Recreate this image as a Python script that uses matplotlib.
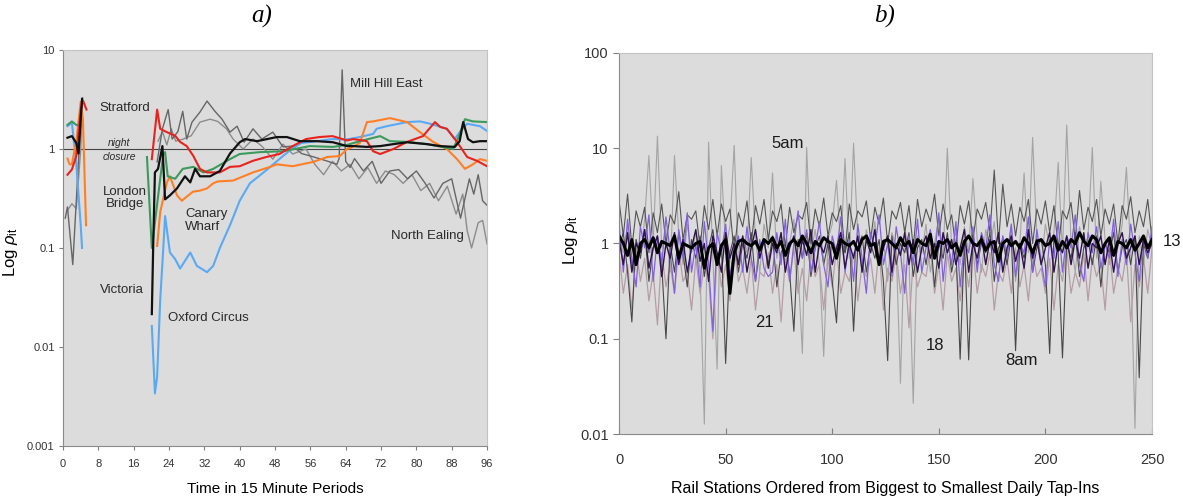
import numpy as np
import matplotlib
matplotlib.use("Agg")
import matplotlib.pyplot as plt
from matplotlib.ticker import NullLocator

plt.rcParams['font.family'] = ['Liberation Sans', 'DejaVu Sans']
plt.rcParams['mathtext.fontset'] = 'custom'
plt.rcParams['mathtext.rm'] = 'Liberation Sans'
plt.rcParams['mathtext.it'] = 'Liberation Sans:italic'

nan = np.nan

# ---- panel a: stations over the day (15 minute periods) ----
red_t = [1, 2, 3, 4, 4.5, 5.3, nan, 20.1, 21.3, 22, 23.5, 25.4, 26.5, 28, 29.5, 31, 32.6, 35.5, 37.8, 40, 43, 46, 49,
         52, 55, 58, 61, 64.3, 65.7, 68.8, 70.2, 71.8, 74.8, 77.9, 81.5, 84.2, 85.4, 86.9, 89.2, 91.5, 93.7, 96]
red_v = [0.55, 0.62, 0.85, 2.5, 3.1, 2.5, nan, 0.79, 2.5, 1.6, 1.48, 1.36, 1.18, 1.07, 0.85, 0.63, 0.58, 0.58, 0.66,
         0.67, 0.76, 0.83, 0.89, 1.07, 1.26, 1.32, 1.35, 1.22, 1.26, 1.2, 0.95, 0.89, 1.0, 1.18, 1.35, 1.87, 1.67, 1.6,
         1.18, 0.83, 0.76, 0.67]

orange_t = [1, 1.5, 2, 3, 4, 4.5, 5.2, nan, 21.3, 22, 23.5, 24.2, 25.8, 26.9, 28, 29.4, 31, 32.6, 34, 35, 38.5, 43,
            46.9, 48.4, 52, 56.6, 59.8, 62.7, 64.3, 65, 67.2, 68.8, 70.2, 74, 77.9, 80.8, 83.8, 86.9, 89.2, 91, 92.8,
            94.4, 96]
orange_v = [0.8, 0.7, 0.7, 1.2, 3.0, 2.0, 0.17, nan, 0.105, 0.23, 0.46, 0.53, 0.34, 0.3, 0.33, 0.37, 0.38, 0.4, 0.45,
            0.47, 0.48, 0.58, 0.66, 0.7, 0.67, 0.74, 0.83, 0.85, 1.0, 1.02, 1.15, 1.87, 1.9, 2.05, 1.87, 1.48, 1.18,
            1.0, 0.79, 0.63, 0.7, 0.79, 0.76]

green_t = [1, 2, 3, 4, nan, 19.0, 20.1, 22, 22.7, 23.1, 23.7, 25.4, 27.1, 29.5, 31.8, 34, 37.8, 40, 44.6, 49.8, 55.9,
           61.1, 64.3, 67.2, 71.8, 74, 77.9, 82.4, 88.3, 89.5, 91, 92.8, 96]
green_v = [1.75, 1.9, 1.75, 1.7, nan, 0.83, 0.1, 0.5, 0.89, 0.93, 0.53, 0.5, 0.63, 0.66, 0.58, 0.63, 0.79, 0.89, 0.93,
           0.95, 1.07, 1.05, 1.1, 1.2, 1.35, 1.2, 1.18, 1.12, 1.0, 1.3, 2.0, 1.9, 1.87]

blue_t = [1, 2, 3, 4, 4.3, nan, 20.1, 20.8, 21.3, 22, 22.7, 23.1, 24.2, 25.4, 26.5, 28.8, 30.3, 32.6, 34, 35.5, 37.8,
          40, 42.3, 46.2, 49.8, 52, 54, 57.5, 61, 64.3, 67.2, 70.2, 71, 73.3, 77.9, 80.8, 83.1, 86.9, 88.7, 89.9,
          91.5, 94.4, 96]
blue_v = [1.7, 1.85, 0.7, 0.17, 0.1, nan, 0.0163, 0.0034, 0.005, 0.03, 0.1, 0.21, 0.09, 0.077, 0.062, 0.09, 0.066,
          0.057, 0.066, 0.1, 0.17, 0.3, 0.45, 0.62, 0.85, 1.02, 1.15, 1.2, 1.26, 1.25, 1.32, 1.42, 1.6, 1.7, 1.87, 1.9,
          1.8, 1.6, 1.26, 1.5, 1.8, 1.7, 1.52]

black_t = [1, 2, 3, 3.5, 4, 4.3, nan, 20.1, 20.4, 20.8, 21.5, 22.5, 23.1, 24.2, 25.8, 27.6, 28.8, 29.9, 31, 33.3,
           35.5, 37.8, 40, 41.2, 43.9, 46.2, 48.4, 50.7, 53.6, 57.5, 61.1, 64.3, 65.7, 68.8, 71.8, 74.8, 77.9, 82.4,
           85.4, 88.7, 89.8, 90.6, 91.7, 92.8, 94.4, 96]
black_v = [1.3, 1.35, 1.15, 0.9, 2.0, 3.2, nan, 0.0215, 0.1, 0.58, 0.63, 1.07, 0.31, 0.34, 0.4, 0.53, 0.46, 0.63,
           0.53, 0.53, 0.6, 0.9, 1.17, 1.26, 1.2, 1.26, 1.32, 1.32, 1.2, 1.2, 1.17, 1.07, 1.07, 1.05, 1.07, 1.12, 1.17,
           1.12, 1.07, 1.05, 1.2, 1.87, 1.26, 1.17, 1.2, 1.2]

gray1_t = [0.5, 1, 2.2, 3, 4, 4.4, nan, 21.3, 22.5, 23.8, 24.7, 26, 27.1, 28, 29.2, 31, 32.6, 34.4, 36, 37.8, 39.4,
           41, 43, 45, 47.5, 49.8, 52, 54, 56, 58, 60, 62, 62.5, 63.2, 64, 65, 66, 68, 70, 72, 74, 76, 78, 80, 82, 84,
           86, 88, 90, 92, 93, 94, 95, 96]
gray1_v = [0.2, 0.26, 0.068, 0.3, 2.0, 3.3, nan, 0.74, 1.6, 2.5, 1.26, 1.5, 2.4, 1.26, 1.87, 2.36, 3.05, 2.4, 2.0,
           1.48, 1.7, 1.17, 1.6, 1.26, 1.48, 1.05, 1.07, 0.9, 0.85, 0.8, 0.75, 0.7, 0.8, 6.3, 0.75, 0.65, 0.8, 0.6,
           0.75, 0.45, 0.6, 0.62, 0.5, 0.6, 0.45, 0.32, 0.45, 0.5, 0.2, 0.5, 0.35, 0.55, 0.3, 0.27]

gray2_t = [1, 2, 3, 4, 4.4, nan, 21.5, 22.5, 23.5, 24.5, 25.5, 27, 29, 31, 33.3, 35, 37, 38.5, 40.8, 43, 45, 47.5,
           49.8, 52, 55, 57, 59, 61, 63, 65, 67, 69, 71, 73, 75, 77, 79, 81, 83, 85, 87, 89, 90.5, 91.5, 92.5, 94, 95,
           96]
gray2_v = [0.24, 0.28, 0.25, 1.0, 3.0, nan, 1.2, 1.5, 1.1, 1.6, 1.2, 1.25, 1.36, 1.87, 2.0, 1.9, 1.6, 1.26, 1.0, 1.26,
           1.07, 0.79, 1.12, 0.89, 1.0, 0.7, 0.55, 0.75, 0.6, 0.7, 0.5, 0.65, 0.45, 0.6, 0.55, 0.45, 0.55, 0.38, 0.45,
           0.3, 0.42, 0.22, 0.35, 0.15, 0.1, 0.18, 0.19, 0.11]

# ---- panel b: stations ordered by tap-ins, every second station ----
light_gray = [1.2, 0.8, 1.5, 0.6, 1.1, 0.7, 1.8, 8.4, 1.0, 13.4, 0.9, 1.4, 0.5, 8.4, 1.2, 0.6, 1.6, 0.8, 1.3, 0.5,
              0.0127, 11.6, 0.7, 0.048, 6.6, 0.9, 1.5, 10.7, 0.6, 1.2, 0.8, 8.0, 1.1, 0.5, 1.6, 0.9, 5.5, 0.7, 1.3,
              0.6, 1.0, 1.8, 0.5, 0.07, 10.2, 0.8, 1.4, 0.6, 0.065, 1.1, 1.6, 4.6, 0.9, 7.8, 0.7, 11.3, 1.2, 0.5, 1.4,
              0.8, 1.7, 0.6, 1.1, 0.4, 1.3, 0.9, 0.034, 1.5, 0.7, 0.021, 1.2, 0.8, 1.6, 0.5, 1.0, 1.9, 0.7, 10.0, 0.9,
              1.3, 0.6, 1.5, 0.8, 4.8, 1.1, 0.5, 1.4, 0.9, 1.7, 0.6, 1.2, 0.8, 1.5, 0.4, 1.0, 5.5, 0.8, 13.0, 1.1,
              0.6, 1.6, 0.9, 1.3, 7.1, 0.8, 17.5, 1.0, 0.5, 1.5, 0.9, 1.2, 10.2, 0.7, 4.5, 1.1, 0.6, 1.4, 0.9, 1.6,
              6.3, 0.8, 0.0115, 1.2, 0.6, 1.4, 0.9]
dark_gray = [2.8, 1.2, 3.3, 0.9, 2.2, 1.5, 2.4, 0.8, 2.1, 1.3, 2.6, 1.0, 2.0, 1.6, 3.5, 1.1, 2.0, 1.8, 2.2, 0.9, 2.5,
             1.4, 2.9, 1.2, 2.6, 1.7, 2.3, 0.8, 2.1, 1.5, 2.8, 1.0, 2.5, 1.6, 2.9, 1.1, 2.2, 1.7, 2.6, 0.9, 2.4, 1.3,
             2.0, 1.8, 2.7, 1.0, 2.3, 1.5, 3.0, 1.2, 2.1, 1.7, 2.5, 0.8, 2.6, 1.4, 2.2, 1.9, 2.8, 1.1, 2.4, 1.6, 3.0,
             1.0, 2.2, 1.8, 2.7, 1.3, 2.5, 0.9, 2.9, 1.5, 2.3, 1.7, 3.3, 1.2, 2.6, 1.4, 2.0, 0.9, 2.5, 1.6, 2.8, 1.1,
             2.3, 1.8, 2.7, 1.3, 5.9, 1.0, 4.2, 1.5, 2.6, 1.2, 2.4, 1.7, 2.9, 1.0, 2.3, 1.6, 2.8, 1.3, 2.5, 0.9, 2.2,
             1.8, 2.7, 1.1, 3.6, 1.4, 2.4, 1.7, 2.9, 1.2, 2.3, 1.6, 2.6, 1.0, 2.5, 1.8, 3.1, 1.3, 2.2, 1.5, 2.9, 1.1]
hour_8am = [0.9, 1.3, 0.5, 0.15, 1.1, 0.7, 1.4, 0.4, 0.9, 1.2, 0.6, 0.1, 1.0, 0.5, 1.3, 0.8, 0.35, 1.1, 0.7, 1.2,
            0.45, 0.9, 1.4, 0.6, 1.0, 0.055, 0.8, 1.2, 0.5, 1.0, 0.7, 1.3, 0.4, 0.9, 1.1, 0.6, 1.2, 0.35, 0.8, 1.0,
            0.5, 0.12, 1.1, 0.7, 1.3, 0.45, 0.9, 1.2, 0.6, 1.0, 0.4, 0.147, 1.1, 0.8, 1.3, 0.12, 0.9, 1.2, 0.5, 1.0,
            0.7, 1.1, 0.4, 0.059, 1.2, 0.6, 1.0, 0.8, 1.3, 0.45, 0.9, 1.1, 0.6, 1.2, 0.35, 1.0, 0.7, 1.3, 0.5, 0.9,
            0.061, 1.1, 0.06, 1.2, 0.6, 1.0, 0.8, 1.3, 0.4, 0.9, 1.1, 0.6, 1.2, 0.075, 1.0, 0.7, 1.3, 0.5, 0.9, 1.1,
            0.6, 0.07, 1.2, 0.8, 0.063, 1.0, 0.7, 1.3, 0.45, 0.9, 1.1, 0.6, 1.2, 0.35, 1.0, 0.8, 1.3, 0.5, 0.9, 1.1,
            0.6, 1.2, 0.039, 1.0, 0.7, 1.2]
hour_18 = [0.8, 0.3, 0.6, 0.2, 0.9, 0.4, 0.7, 0.25, 0.5, 0.14, 0.8, 0.35, 0.6, 0.3, 0.9, 0.4, 0.5, 0.2, 0.7, 0.3,
           0.6, 0.45, 0.1, 0.8, 0.35, 0.6, 0.25, 0.9, 0.4, 0.55, 0.3, 0.7, 0.2, 0.5, 0.45, 0.8, 0.3, 0.6, 0.15, 0.7,
           0.4, 0.9, 0.3, 0.55, 0.25, 0.8, 0.45, 0.6, 0.2, 0.7, 0.35, 0.9, 0.3, 0.5, 0.4, 0.8, 0.25, 0.6, 0.45, 0.7,
           0.3, 0.9, 0.2, 0.55, 0.4, 0.8, 0.3, 0.6, 0.13, 0.7, 0.35, 0.5, 0.45, 0.9, 0.3, 0.6, 0.2, 0.8, 0.4, 0.55,
           0.25, 0.7, 0.35, 0.9, 0.3, 0.6, 0.45, 0.8, 0.2, 0.5, 0.4, 0.7, 0.3, 0.9, 0.35, 0.6, 0.25, 0.8, 0.45, 0.55,
           0.3, 0.7, 0.2, 0.6, 0.4, 0.9, 0.3, 0.5, 0.35, 0.8, 0.25, 0.7, 0.45, 0.6, 0.2, 0.9, 0.3, 0.55, 0.4, 0.8,
           0.15, 0.6, 0.35, 0.7, 0.3, 0.9]
hour_21 = [1.6, 0.5, 1.8, 0.7, 0.35, 1.5, 0.9, 2.0, 0.4, 1.2, 0.6, 1.9, 0.8, 0.3, 1.4, 0.7, 2.1, 0.5, 1.0, 0.35, 1.7,
           0.6, 0.12, 1.3, 0.8, 1.6, 0.45, 0.9, 1.2, 0.5, 1.5, 0.7, 0.4, 1.1, 0.55, 0.45, 0.5, 1.3, 0.6, 1.8, 0.4,
           1.0, 2.2, 0.7, 1.4, 0.5, 0.9, 1.7, 0.6, 0.35, 1.2, 0.8, 1.9, 0.5, 1.1, 0.4, 1.6, 0.7, 0.3, 1.3, 0.9, 2.0,
           0.6, 1.0, 0.45, 1.5, 0.8, 0.3, 1.2, 0.6, 1.8, 0.5, 0.9, 1.4, 0.7, 2.1, 0.4, 1.1, 0.6, 1.7, 0.35, 1.0, 0.8,
           1.5, 0.5, 1.3, 0.9, 2.0, 0.6, 0.4, 1.2, 0.7, 1.6, 0.45, 1.0, 0.8, 1.9, 0.5, 1.4, 0.65, 0.35, 1.1, 0.7,
           1.7, 0.5, 1.2, 0.9, 2.0, 0.6, 0.4, 1.3, 0.8, 1.5, 0.55, 1.0, 0.7, 1.8, 0.45, 1.1, 0.6, 1.6, 0.8, 0.4,
           1.2, 0.7, 1.5]
dark_purple = [1.1, 0.6, 1.3, 0.5, 1.0, 0.8, 1.4, 0.55, 0.9, 1.2, 0.45, 1.0, 0.7, 1.3, 0.6, 1.1, 0.5, 0.9, 1.4, 0.65,
               1.0, 0.4, 1.2, 0.8, 0.5, 1.3, 0.7, 1.0, 0.6, 1.2, 0.5, 0.9, 1.4, 0.7, 1.1, 0.55, 1.0, 0.8, 1.3, 0.5,
               0.9, 1.2, 0.6, 1.1, 0.75, 1.4, 0.5, 1.0, 0.8, 1.2, 0.6, 0.9, 1.3, 0.55, 1.0, 0.7, 1.2, 0.5, 1.1, 0.8,
               1.4, 0.6, 0.9, 1.2, 0.5, 1.0, 0.75, 1.3, 0.6, 1.1, 0.5, 0.9, 1.2, 0.7, 1.0, 0.55, 1.3, 0.8, 1.1, 0.6,
               0.9, 1.4, 0.5, 1.0, 0.7, 1.2, 0.6, 1.1, 0.8, 1.3, 0.5, 0.9, 1.2, 0.65, 1.0, 0.55, 1.4, 0.7, 1.1, 0.6,
               0.9, 1.3, 0.5, 1.0, 0.8, 1.2, 0.6, 1.1, 0.7, 1.3, 0.55, 1.0, 0.9, 1.2, 0.6, 1.1, 0.5, 1.0, 1.3, 0.7,
               0.9, 1.2, 0.6, 1.1, 0.8, 1.0]
hour_13 = [1.2, 1.0, 0.75, 1.1, 0.6, 1.0, 1.1, 0.9, 1.15, 0.8, 1.05, 1.0, 0.95, 1.2, 0.7, 1.0, 0.95, 0.9, 1.0, 1.05,
           0.55, 0.9, 1.0, 0.6, 0.95, 1.1, 0.3, 0.8, 1.05, 1.1, 1.0, 0.95, 1.05, 0.85, 1.1, 1.0, 1.15, 0.9, 1.05,
           0.75, 1.0, 1.1, 0.95, 1.2, 1.0, 0.8, 1.05, 0.95, 1.15, 1.05, 1.0, 0.7, 1.1, 1.0, 0.95, 1.05, 0.85, 1.1,
           1.2, 0.95, 1.0, 0.6, 1.05, 1.1, 1.0, 0.9, 1.15, 0.95, 1.05, 0.8, 1.1, 1.0, 0.95, 1.25, 0.7, 1.05, 1.0,
           1.1, 0.9, 1.0, 0.75, 1.05, 1.2, 1.0, 0.95, 1.1, 0.85, 1.0, 1.05, 0.65, 1.0, 1.1, 0.95, 1.05, 0.9, 1.15,
           1.0, 0.8, 1.05, 1.1, 0.95, 1.0, 1.2, 0.85, 1.05, 0.9, 1.1, 1.0, 1.3, 1.05, 0.95, 1.2, 1.1, 0.8, 1.0, 1.15,
           0.75, 1.05, 1.0, 0.9, 1.1, 0.85, 1.0, 1.2, 0.9, 1.1]


def stations(vals):
    return np.arange(len(vals)) * 2


fig = plt.figure(figsize=(11.83, 4.98), dpi=100)
bg = '#dcdcdc'
tick_col = '#333333'

# ---------------- a) ----------------
ax = fig.add_axes([0.0533, 0.1044, 0.3584, 0.7952])
ax.set_facecolor(bg)
ax.axhline(1, color='#444444', lw=0.8, zorder=1)
ax.plot(gray2_t, gray2_v, color='#8c8c8c', lw=1.0)
ax.plot(gray1_t, gray1_v, color='#666666', lw=1.0)
ax.plot(blue_t, blue_v, color='#5aa9f5', lw=1.5)
ax.plot(orange_t, orange_v, color='#ff7f27', lw=1.5)
ax.plot(green_t, green_v, color='#3c9a5c', lw=1.5)
ax.plot(red_t, red_v, color='#e8231e', lw=1.5)
ax.plot(black_t, black_v, color='#111111', lw=1.6)
ax.set_yscale('log')
ax.set_xlim(0, 96)
ax.set_ylim(0.001, 10)
ax.set_xticks(range(0, 97, 8))
ax.set_yticks([0.001, 0.01, 0.1, 1, 10])
ax.set_yticklabels(['0.001', '0.01', '0.1', '1', '10'])
ax.yaxis.set_minor_locator(NullLocator())
ax.tick_params(direction='out', length=3, color='#808080', labelsize=8, labelcolor=tick_col, pad=3)
ax.tick_params(axis='x', pad=6)
for s in ['top', 'right']:
    ax.spines[s].set_color('#c4c4c4')
for s in ['left', 'bottom']:
    ax.spines[s].set_color('#8a8a8a')
ax.set_xlabel('Time in 15 Minute Periods', fontsize=11, labelpad=10)
ax.set_ylabel(r'Log $\rho_{\rm it}$', fontsize=12)
ax.yaxis.set_label_coords(-0.102, 0.49)

txt = dict(fontsize=9.5, color='#2a2a2a')
ax.text(14.0, 2.6, 'Stratford', ha='center', va='center', **txt)
ax.text(12.7, 1.15, 'night', ha='center', va='center', fontsize=7.5, style='italic', color='#2a2a2a')
ax.text(12.7, 0.83, 'closure', ha='center', va='center', fontsize=7.5, style='italic', color='#2a2a2a')
ax.text(14.0, 0.32, 'London\nBridge', ha='center', va='center', linespacing=1.1, **txt)
ax.text(27.6, 0.19, 'Canary\nWharf', ha='left', va='center', linespacing=1.1, **txt)
ax.text(13.3, 0.0377, 'Victoria', ha='center', va='center', **txt)
ax.text(23.8, 0.0196, 'Oxford Circus', ha='left', va='center', **txt)
ax.text(65.0, 4.5, 'Mill Hill East', ha='left', va='center', **txt)
ax.text(90.8, 0.132, 'North Ealing', ha='right', va='center', **txt)

# ---------------- b) ----------------
bx = fig.add_axes([0.5233, 0.1285, 0.4505, 0.7651])
bx.set_facecolor(bg)
bx.plot(stations(light_gray), light_gray, color='#a4a4a4', lw=0.8)
bx.plot(stations(hour_18), hour_18, color='#b49ea6', lw=0.9)
bx.plot(stations(dark_gray), dark_gray, color='#555555', lw=0.8)
bx.plot(stations(hour_8am), hour_8am, color='#484848', lw=0.8)
bx.plot(stations(hour_21), hour_21, color='#8262dc', lw=0.9)
bx.plot(stations(dark_purple), dark_purple, color='#2e1448', lw=1.0)
bx.plot(stations(hour_13), hour_13, color='#000000', lw=2.2)
bx.set_yscale('log')
bx.set_xlim(0, 250)
bx.set_ylim(0.01, 100)
bx.set_xticks(range(0, 251, 50))
bx.set_yticks([0.01, 0.1, 1, 10, 100])
bx.set_yticklabels(['0.01', '0.1', '1', '10', '100'])
bx.yaxis.set_minor_locator(NullLocator())
bx.tick_params(axis='x', direction='in', length=4, color='#808080', labelsize=10.5, labelcolor=tick_col, pad=14)
bx.tick_params(axis='y', direction='out', length=4, color='#808080', labelsize=10.5, labelcolor=tick_col)
for s in ['top', 'right']:
    bx.spines[s].set_color('#c4c4c4')
for s in ['left', 'bottom']:
    bx.spines[s].set_color('#8a8a8a')
bx.set_xlabel('Rail Stations Ordered from Biggest to Smallest Daily Tap-Ins', fontsize=11.5, labelpad=10)
bx.set_ylabel(r'Log $\rho_{\rm it}$', fontsize=12)
bx.yaxis.set_label_coords(-0.073, 0.51)

txt_b = dict(fontsize=12, color='#1a1a1a', ha='center', va='center')
bx.text(79.3, 11.3, '5am', **txt_b)
bx.text(68, 0.147, '21', **txt_b)
bx.text(148.2, 0.084, '18', **txt_b)
bx.text(189, 0.059, '8am', **txt_b)
bx.text(259.5, 1.05, '13', clip_on=False, **txt_b)

fig.text(262 / 1183, 1 - 16 / 498, 'a)', fontsize=18, family='Liberation Serif', style='italic',
         ha='center', va='center')
fig.text(885 / 1183, 1 - 16 / 498, 'b)', fontsize=18, family='Liberation Serif', style='italic',
         ha='center', va='center')

fig.savefig('out.png', dpi=100)
